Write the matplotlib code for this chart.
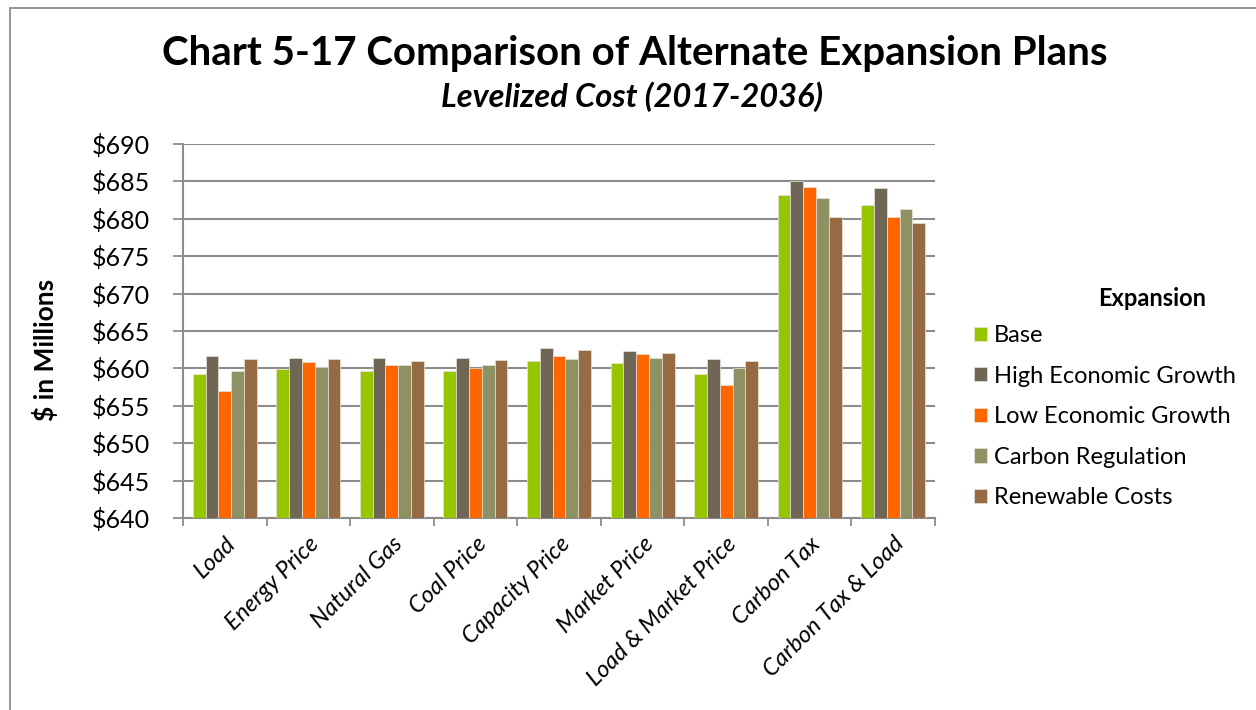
import matplotlib.pyplot as plt
import numpy as np
from matplotlib.patches import Rectangle

plt.rcParams['font.family'] = ['Lato', 'DejaVu Sans']

categories = ["Load", "Energy Price", "Natural Gas", "Coal Price", "Capacity Price",
              "Market Price", "Load & Market Price", "Carbon Tax", "Carbon Tax & Load"]

series_names = ["Base", "High Economic Growth", "Low Economic Growth",
                "Carbon Regulation", "Renewable Costs"]

base      = [659.2, 659.9, 659.7, 659.7, 661.0, 660.7, 659.2, 683.2, 681.9]
high_grow = [661.6, 661.4, 661.4, 661.4, 662.7, 662.3, 661.3, 685.0, 684.1]
low_grow  = [657.0, 660.9, 660.5, 660.1, 661.6, 661.9, 657.8, 684.2, 680.2]
carbon_rg = [659.6, 660.2, 660.4, 660.4, 661.3, 661.4, 660.0, 682.8, 681.3]
renew     = [661.2, 661.2, 661.0, 661.1, 662.5, 662.0, 661.0, 680.3, 679.4]

colors = ["#95c600", "#706656", "#ff6600", "#8e9163", "#966b43"]

yticks = np.arange(640, 691, 5)

fig = plt.figure(figsize=(12.56, 7.10), dpi=100)
ax = fig.add_axes([183/1256, 1-518/710, (935-183)/1256, (518-144)/710])

# chart border
fig.patches.append(Rectangle((10/1256, -0.1), 1.2, 1-8/710+0.1, transform=fig.transFigure,
                             fill=False, edgecolor="#8c8c8c", linewidth=1.3))

x = np.arange(len(categories))
w = 0.153
all_series = [base, high_grow, low_grow, carbon_rg, renew]
for i, (vals, name) in enumerate(zip(all_series, series_names)):
    ax.bar(x + (i - 2) * w, np.array(vals) - 640, bottom=640, width=w,
           color=colors[i], edgecolor="#e8e2d8", linewidth=0.5, label=name, zorder=3)

ax.set_xlim(-0.5, len(categories) - 0.5)
ax.set_ylim(640, 690)
ax.set_yticks(yticks)
ax.set_yticklabels([f"${v}" for v in yticks], fontsize=18)
ax.grid(axis='y', color="#8c8c8c", linewidth=1.5, zorder=0)

ax.set_xticks(x)
ax.set_xticklabels(categories, rotation=45, ha='right', rotation_mode='anchor',
                   fontsize=17, style='italic')
ax.set_xticks(np.arange(-0.5, len(categories)), minor=True)
ax.tick_params(axis='x', which='major', length=0, pad=11)
ax.tick_params(axis='x', which='minor', length=6, color="#8c8c8c", width=1.3)
ax.tick_params(axis='y', length=7, color="#8c8c8c", width=1.3, pad=17)

for s in ['top', 'right']:
    ax.spines[s].set_visible(False)
for s in ['left', 'bottom']:
    ax.spines[s].set_color("#8c8c8c")
    ax.spines[s].set_linewidth(1.5)

fig.text(45/1256, 1-350/710, "$ in Millions", rotation=90, fontsize=19,
         fontweight='bold', ha='center', va='center')

fig.text(635/1256, 1-53/710, "Chart 5-17 Comparison of Alternate Expansion Plans",
         fontsize=29, fontweight='bold', ha='center', va='center')
fig.text(632/1256, 1-97/710, "Levelized Cost (2017-2036)", fontsize=23.5,
         fontweight='bold', style='italic', ha='center', va='center')

fig.text(1152/1256, 1-299/710, "Expansion", fontsize=17, fontweight='bold',
         ha='center', va='center')
fig.legend(loc='upper left', bbox_to_anchor=(974/1256, 1-325/710), frameon=False,
           fontsize=17, handlelength=0.55, handleheight=0.55, handletextpad=0.3,
           labelspacing=0.83, borderaxespad=0, borderpad=0)

fig.savefig("out.png", dpi=100)
